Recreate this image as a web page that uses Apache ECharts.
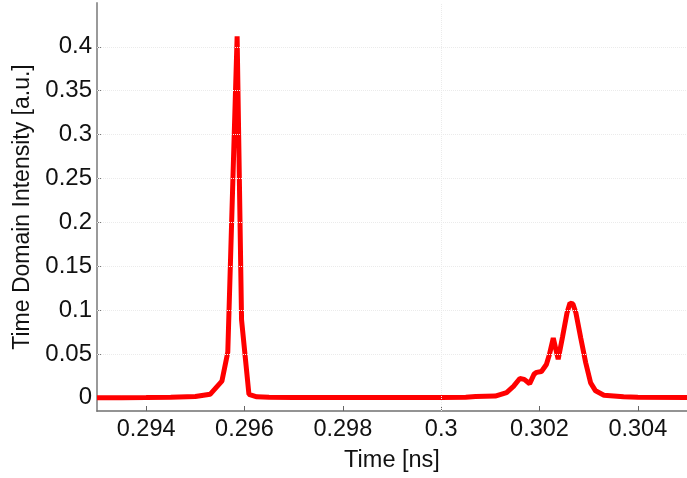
<!DOCTYPE html>
<html>
<head>
<meta charset="utf-8">
<script src="https://cdn.jsdelivr.net/npm/echarts@6/dist/echarts.min.js"></script>
<style>html,body{margin:0;padding:0;background:#fff;}#chart{width:687px;height:478px;}</style>
</head>
<body>
<div id="chart"></div>
<script>
// Time [ns]
const timeValues = [
  0.2930, 0.2935, 0.2940, 0.2945, 0.2950, 0.29530, 0.29554, 0.29566, 0.29585,
  0.29594, 0.29609, 0.29625, 0.2965, 0.2970, 0.2980, 0.2990, 0.3000, 0.30050,
  0.30070, 0.30110, 0.30133, 0.30147, 0.30160, 0.30169, 0.30180, 0.30189,
  0.30194, 0.30204, 0.30214, 0.30220, 0.30228, 0.30238, 0.30247, 0.30256,
  0.30262, 0.30268, 0.30274, 0.30284, 0.30294, 0.30304, 0.30314, 0.30331,
  0.30371, 0.3040, 0.3050
];
// Time domain intensity [a.u.]
const intensityValues = [
  0.0000, 0.0002, 0.0004, 0.0008, 0.0015, 0.0040, 0.0190, 0.0520, 0.4120,
  0.0890, 0.0040, 0.0012, 0.0006, 0.0004, 0.0003, 0.0003, 0.0004, 0.0008,
  0.0014, 0.0020, 0.0060, 0.0130, 0.0220, 0.0210, 0.0160, 0.0270,
  0.0290, 0.0300, 0.0380, 0.0490, 0.0680, 0.0440, 0.0700, 0.0970,
  0.1080, 0.1070, 0.0970, 0.0680, 0.0400, 0.0170, 0.0080, 0.0030,
  0.0012, 0.0006, 0.0004
];
const xTicks = [0.294, 0.296, 0.298, 0.300, 0.302, 0.304];
const yTicks = [0, 0.05, 0.1, 0.15, 0.2, 0.25, 0.3, 0.35, 0.4];

const FONT = "'Liberation Sans', Arial, Helvetica, sans-serif";
const points = timeValues.map((t, i) => [t, intensityValues[i]]);
const fmt = v => String(parseFloat(v.toFixed(4)));

const chart = echarts.init(document.getElementById('chart'), null, {renderer: 'canvas'});
chart.setOption({
  animation: false,
  backgroundColor: '#ffffff',
  grid: {left: 97, top: 3, width: 597, height: 409, containLabel: false},
  xAxis: {
    type: 'value', min: 0.293, max: 0.305,
    name: 'Time [ns]', nameLocation: 'middle', nameGap: 38,
    nameTextStyle: {fontFamily: FONT, fontSize: 23.5, color: '#111'},
    axisLine: {show: true, onZero: false, lineStyle: {color: '#707070', width: 1.5}},
    axisTick: {show: true, inside: true, length: 5, customValues: xTicks, lineStyle: {color: '#666', width: 1}},
    axisLabel: {customValues: xTicks, formatter: fmt, fontFamily: FONT, fontSize: 23.5, color: '#111', margin: 7},
    splitLine: {show: false}
  },
  yAxis: {
    type: 'value', min: -0.015, max: 0.45,
    name: 'Time Domain Intensity [a.u.]', nameLocation: 'middle', nameGap: 62, nameRotate: 90,
    nameTextStyle: {fontFamily: FONT, fontSize: 23, color: '#111'},
    axisLine: {show: true, onZero: false, lineStyle: {color: '#9a9a9a', width: 2}},
    axisTick: {show: true, inside: true, length: 5, customValues: yTicks, lineStyle: {color: '#777', width: 1}},
    axisLabel: {customValues: yTicks, formatter: fmt, fontFamily: FONT, fontSize: 24, color: '#111', margin: 5},
    splitLine: {show: false}
  },
  series: [{
    type: 'line',
    data: points,
    showSymbol: false,
    symbol: 'none',
    smooth: false,
    clip: true,
    lineStyle: {color: '#ff0000', width: 5, join: 'bevel'},
    z: 3,
    markLine: {
      silent: true, symbol: 'none', label: {show: false}, animation: false,
      lineStyle: {color: '#ebebeb', type: 'dotted', width: 1},
      data: [
        ...yTicks.filter(v => v > 0).map(v => ({yAxis: v})),
        ...xTicks.map(v => ({xAxis: v}))
      ]
    }
  }]
});
</script>
</body>
</html>
